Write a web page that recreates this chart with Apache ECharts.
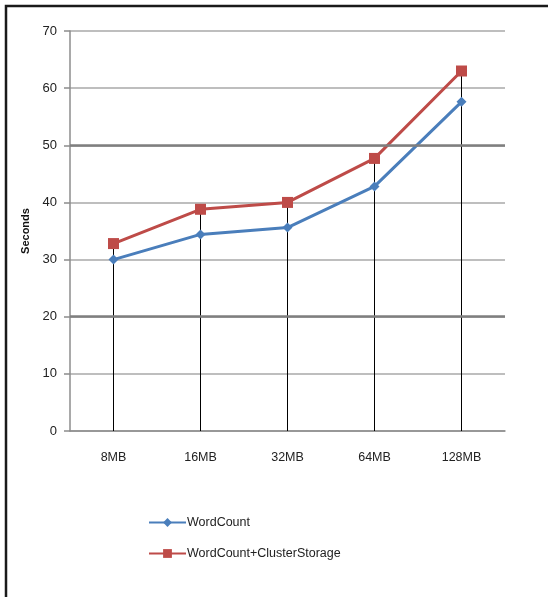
<!DOCTYPE html>
<html>
<head>
<meta charset="utf-8">
<script src="https://cdn.jsdelivr.net/npm/echarts@6/dist/echarts.min.js"></script>
<style>
  html, body { margin: 0; padding: 0; background: #fff; }
  #chart { width: 548px; height: 597px; }
</style>
</head>
<body>
<div id="chart"></div>
<script>
// Block sizes on the category axis
const categories = ['8MB', '16MB', '32MB', '64MB', '128MB'];
// Run times in seconds
const wordCount = [30, 34.4, 35.6, 42.8, 57.6];
const wordCountClusterStorage = [32.8, 38.8, 40, 47.7, 63];
// Value axis range and step
const yMin = 0, yMax = 70, yStep = 10;
// Heavier reference lines
const emphasisLines = [20, 50];

// Vertical drop lines reach the higher of the two series at each category
const dropHeights = categories.map((_, i) => Math.max(wordCount[i], wordCountClusterStorage[i]));

const font = 'Liberation Sans, Arial, sans-serif';
const chart = echarts.init(document.getElementById('chart'), null, { renderer: 'canvas' });

chart.setOption({
  animation: false,
  backgroundColor: '#fff',
  graphic: [{
    type: 'rect',
    shape: { x: 6, y: 6, width: 600, height: 700 },
    style: { fill: 'none', stroke: '#1a1a1a', lineWidth: 2.5 },
    silent: true
  }],
  grid: { left: 70, right: 43, top: 31, bottom: 166, containLabel: false },
  legend: {
    orient: 'vertical',
    left: 143,
    top: 511,
    itemWidth: 37,
    itemHeight: 11,
    itemGap: 18,
    data: ['WordCount', 'WordCount+ClusterStorage'],
    textStyle: { fontFamily: font, fontSize: 12.5, color: '#222', padding: [0, 0, 0, -4] }
  },
  xAxis: {
    type: 'category',
    data: categories,
    boundaryGap: true,
    axisLine: { lineStyle: { color: '#8c8c8c', width: 1.5 } },
    axisTick: { show: false },
    axisLabel: { fontFamily: font, fontSize: 12.5, color: '#222', margin: 20 },
    splitLine: { show: false }
  },
  yAxis: {
    type: 'value',
    min: yMin,
    max: yMax,
    interval: yStep,
    name: 'Seconds',
    nameLocation: 'middle',
    nameGap: 36,
    nameRotate: 90,
    nameTextStyle: { fontFamily: font, fontSize: 11, fontWeight: 'bold', color: '#111' },
    axisLine: { show: true, lineStyle: { color: '#8c8c8c', width: 1.5 } },
    axisTick: { show: true, length: 6, lineStyle: { color: '#8c8c8c', width: 1.5 } },
    axisLabel: { fontFamily: font, fontSize: 13, color: '#222', margin: 13 },
    splitLine: { show: true, lineStyle: { color: '#a8a8a8', width: 1.5 } }
  },
  series: [
    {
      name: 'drop',
      type: 'bar',
      data: dropHeights,
      barWidth: 1,
      itemStyle: { color: '#000' },
      silent: true,
      z: 1,
      markLine: {
        silent: true,
        symbol: 'none',
        label: { show: false },
        lineStyle: { color: '#7f7f7f', width: 2.5, type: 'solid' },
        data: emphasisLines.map(v => ({ yAxis: v }))
      }
    },
    {
      name: 'WordCount',
      type: 'line',
      data: wordCount,
      symbol: 'diamond',
      symbolSize: 10,
      lineStyle: { color: '#4a7ebb', width: 3 },
      itemStyle: { color: '#4a7ebb' },
      z: 3
    },
    {
      name: 'WordCount+ClusterStorage',
      type: 'line',
      data: wordCountClusterStorage,
      symbol: 'rect',
      symbolSize: 11,
      lineStyle: { color: '#be4b48', width: 3 },
      itemStyle: { color: '#be4b48' },
      z: 3
    }
  ]
});
</script>
</body>
</html>
